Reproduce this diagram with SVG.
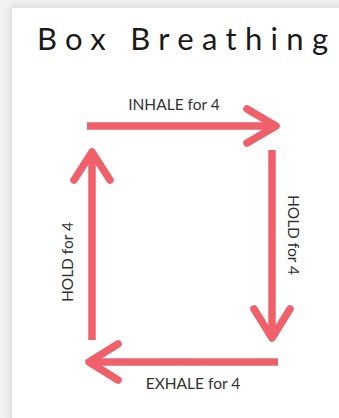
<svg xmlns="http://www.w3.org/2000/svg" width="339" height="418" viewBox="0 0 339 418">
  <defs>
    <filter id="sh" x="-10%" y="-10%" width="120%" height="120%">
      <feGaussianBlur stdDeviation="4"/>
    </filter>
    <style>
      .arrow { fill: none; stroke: #f0606b; stroke-width: 7.5; stroke-linecap: round; stroke-linejoin: round; }
      .shaft { fill: none; stroke: #f0606b; stroke-width: 7.5; stroke-linecap: butt; }
      .lbl { font-family: Lato, "Open Sans", sans-serif; font-size: 15.5px; fill: #333333; text-anchor: middle; }
      .title { font-family: Lato, "Liberation Sans", sans-serif; font-size: 31px; fill: #1a1a1a; }
    </style>
  </defs>
  <rect x="0" y="0" width="339" height="418" fill="#f3f3f3"/>
  <rect x="10" y="6" width="340" height="420" fill="#d8d8d8" filter="url(#sh)"/>
  <rect x="12" y="8" width="330" height="412" fill="#ffffff"/>

  <g id="title">
    <text class="title" x="37" y="50" textLength="291" lengthAdjust="spacing">Box Breathing</text>
  </g>

  <g id="connectors">
    <g id="inhale-arrow">
      <line class="shaft" x1="87" y1="126" x2="274" y2="126"/>
      <polyline class="arrow" points="247,109 276,126 247,143"/>
    </g>
    <g id="hold-right-arrow">
      <line class="shaft" x1="272" y1="150" x2="272" y2="337"/>
      <polyline class="arrow" points="254,309 272,338 290,309"/>
    </g>
    <g id="exhale-arrow">
      <line class="shaft" x1="278" y1="362" x2="90" y2="362"/>
      <polyline class="arrow" points="118,344 89,362 118,380"/>
    </g>
    <g id="hold-left-arrow">
      <line class="shaft" x1="92" y1="340" x2="92" y2="153"/>
      <polyline class="arrow" points="74,180 92,152 110,180"/>
    </g>
  </g>

  <g id="label-inhale">
    <text class="lbl" x="174" y="110">INHALE for 4</text>
  </g>
  <g id="label-hold-right">
    <text class="lbl" transform="translate(288,235) rotate(90)" x="0" y="0">HOLD for 4</text>
  </g>
  <g id="label-exhale">
    <text class="lbl" x="193" y="389">EXHALE for 4</text>
  </g>
  <g id="label-hold-left">
    <text class="lbl" transform="translate(73,262) rotate(-90)" x="0" y="0">HOLD for 4</text>
  </g>
</svg>
